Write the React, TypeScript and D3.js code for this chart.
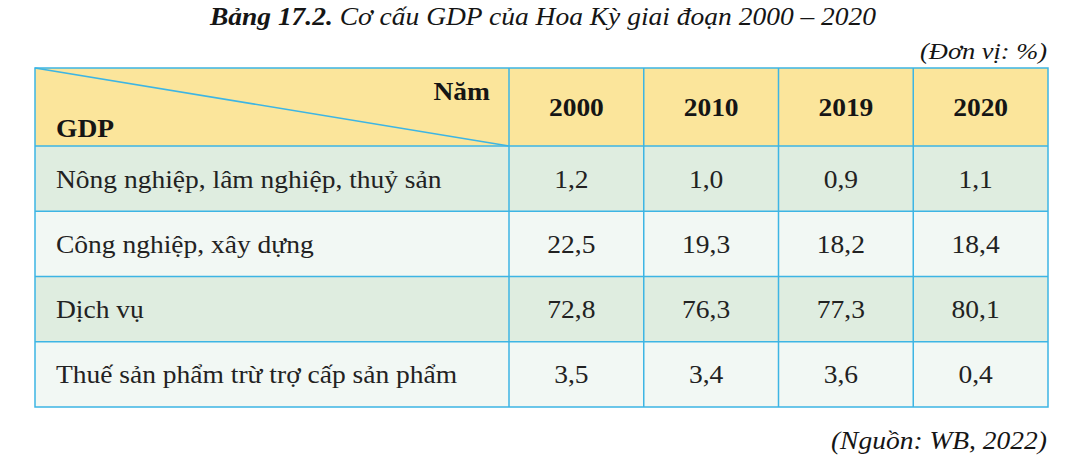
import React from 'react';
import * as d3 from 'd3';

const years = ['2000', '2010', '2019', '2020'];
const sectors = [
  'Nông nghiệp, lâm nghiệp, thuỷ sản',
  'Công nghiệp, xây dựng',
  'Dịch vụ',
  'Thuế sản phẩm trừ trợ cấp sản phẩm',
];
const values = [
  ['1,2', '1,0', '0,9', '1,1'],
  ['22,5', '19,3', '18,2', '18,4'],
  ['72,8', '76,3', '77,3', '80,1'],
  ['3,5', '3,4', '3,6', '0,4'],
];

const width = 1085;
const height = 467;
const left = 35;
const right = 1048;
const firstColRight = 509;
const headTop = 68;
const headBottom = 146;
const tableBottom = 407;

const border = '#3db5e4';
const headFill = '#fbe59b';
const greenFill = '#dfede0';
const lightFill = '#f2f8f4';
const font = '"Liberation Serif", "Times New Roman", serif';
const stretch = 1.1; // the source type is a little wider than Times

// text drawn slightly widened to match the scanned table
const T = ({ x, y, anchor = 'start', size = 25, bold = false, italic = false, fill = '#151515', children }: any) => (
  <text transform={`translate(${x},${y}) scale(${stretch},1)`} textAnchor={anchor} fontSize={size}
    fontWeight={bold ? 'bold' : 'normal'} fontStyle={italic ? 'italic' : 'normal'} fill={fill}>
    {children}
  </text>
);

const App = () => {
  const x = d3.scaleBand().domain(years).range([firstColRight, right]);
  const y = d3.scaleBand().domain(sectors).range([headBottom, tableBottom]);

  return (
    <svg width={width} height={height} style={{ position: 'absolute', left: 0, top: 0 }} fontFamily={font}>
      <rect width={width} height={height} fill="#fff" />

      <T x={543} y={25} anchor="middle" italic>
        <tspan fontWeight="bold">Bảng 17.2.</tspan> Cơ cấu GDP của Hoa Kỳ giai đoạn 2000 – 2020
      </T>
      <T x={right - 1} y={59} anchor="end" size={24} italic>(Đơn vị: %)</T>

      <rect x={left} y={headTop} width={right - left} height={headBottom - headTop} fill={headFill} />
      {sectors.map((s, i) => (
        <rect key={s} x={left} y={y(s)} width={right - left} height={y.bandwidth()}
          fill={i % 2 === 0 ? greenFill : lightFill} />
      ))}

      <g stroke={border} strokeWidth={1.5} fill="none">
        <rect x={left} y={headTop} width={right - left} height={tableBottom - headTop} />
        <line x1={left} y1={headTop} x2={firstColRight} y2={headBottom} />
        {years.map(yr => (
          <line key={yr} x1={x(yr)} y1={headTop} x2={x(yr)} y2={tableBottom} />
        ))}
        {sectors.map(s => (
          <line key={s} x1={left} y1={y(s)} x2={right} y2={y(s)} />
        ))}
      </g>

      <T x={490} y={100} anchor="end" bold>Năm</T>
      <T x={56} y={137} bold>GDP</T>
      {years.map(yr => (
        <T key={yr} x={x(yr) + x.bandwidth() / 2} y={116} anchor="middle" bold>{yr}</T>
      ))}

      {sectors.map((s, i) => (
        <g key={s}>
          <T x={56} y={y(s) + y.bandwidth() / 2 + 9} fill="#222">{s}</T>
          {values[i].map((v, j) => (
            <T key={j} x={x(years[j]) + x.bandwidth() / 2 - 5} y={y(s) + y.bandwidth() / 2 + 9}
              anchor="middle" fill="#222">{v}</T>
          ))}
        </g>
      ))}

      <T x={right - 1} y={449} anchor="end" italic>(Nguồn: WB, 2022)</T>
    </svg>
  );
};

export default App;
